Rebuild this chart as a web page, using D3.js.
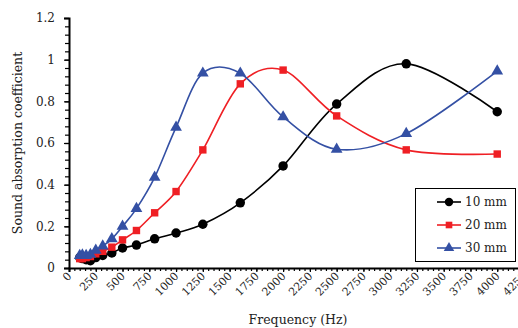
<!DOCTYPE html>
<html>
<head>
<meta charset="utf-8">
<script src="https://cdn.jsdelivr.net/npm/d3@7"></script>
<style>
  body { margin: 0; background: #fff; }
</style>
</head>
<body>
<div id="chart"></div>
<script>
const freqs = [100, 125, 160, 200, 250, 315, 400, 500, 630, 800, 1000, 1250, 1600, 2000, 2500, 3150, 4000];
const mm10 = [0.05, 0.045, 0.04, 0.035, 0.05, 0.06, 0.072, 0.096, 0.11, 0.14, 0.168, 0.21, 0.313, 0.49, 0.787, 0.98, 0.75];
const mm20 = [0.045, 0.045, 0.05, 0.055, 0.068, 0.08, 0.1, 0.135, 0.18, 0.265, 0.367, 0.567, 0.884, 0.95, 0.73, 0.567, 0.547];
const mm30 = [0.06, 0.062, 0.06, 0.065, 0.085, 0.105, 0.14, 0.2, 0.285, 0.435, 0.675, 0.935, 0.935, 0.725, 0.57, 0.645, 0.945];
const seriesNames = ["10 mm", "20 mm", "30 mm"];
const xTicks = d3.range(0, 4251, 250);
const yTicks = [0, 0.2, 0.4, 0.6, 0.8, 1, 1.2];

const FONT = "DejaVu Serif";
const width = 518, height = 328;
const svg = d3.select("#chart").append("svg")
  .attr("width", width)
  .attr("height", height);

const x = d3.scaleLinear().domain([0, 4250]).range([69, 524]);
const y = d3.scaleLinear().domain([0, 1.2]).range([268, 18]);

// minor ticks
svg.append("g")
  .attr("transform", "translate(0,268)")
  .call(d3.axisBottom(x).tickValues(d3.range(0, 4251, 50)).tickSize(3).tickFormat(""))
  .call(g => g.select(".domain").remove())
  .call(g => g.selectAll("line").attr("stroke", "#000").attr("stroke-width", 1.2));
svg.append("g")
  .attr("transform", "translate(69,0)")
  .call(d3.axisLeft(y).tickValues(d3.range(0, 1.2001, 0.04)).tickSize(4).tickFormat(""))
  .call(g => g.select(".domain").remove())
  .call(g => g.selectAll("line").attr("stroke", "#000").attr("stroke-width", 1.2));

// x axis
const xAxis = svg.append("g")
  .attr("transform", "translate(0,268)")
  .call(d3.axisBottom(x).tickValues(xTicks).tickSize(4).tickFormat(d3.format("d")));
xAxis.select(".domain").attr("stroke", "#000").attr("stroke-width", 2);
xAxis.selectAll("line").attr("stroke", "#000").attr("stroke-width", 1.2);
xAxis.selectAll("text")
  .attr("font-family", FONT)
  .attr("fill", "#222")
  .style("font-size", "11px")
  .attr("text-anchor", "end")
  .attr("transform", "translate(0,6) rotate(-45)")
  .attr("dy", "0.35em")
  .attr("y", 0)
  .attr("x", 0);

// y axis
const yAxis = svg.append("g")
  .attr("transform", "translate(69,0)")
  .call(d3.axisLeft(y).tickValues(yTicks).tickSize(5).tickFormat(d => d));
yAxis.select(".domain").attr("stroke", "#000").attr("stroke-width", 2);
yAxis.selectAll("line").attr("stroke", "#000").attr("stroke-width", 1.2);
yAxis.selectAll("text")
  .attr("font-family", FONT)
  .attr("fill", "#222")
  .attr("x", -14)
  .style("font-size", "12px");

// titles
svg.append("text")
  .attr("x", 298).attr("y", 324)
  .attr("text-anchor", "middle")
  .attr("font-family", FONT)
  .attr("fill", "#222")
  .style("font-size", "12.5px")
  .text("Frequency (Hz)");
svg.append("text")
  .attr("transform", "translate(22,143) rotate(-90)")
  .attr("text-anchor", "middle")
  .attr("font-family", FONT)
  .attr("fill", "#222")
  .style("font-size", "12.5px")
  .text("Sound absorption coefficient");

const series = [
  { name: seriesNames[0], values: mm10, color: "#000000", shape: d3.symbolCircle, size: 70 },
  { name: seriesNames[1], values: mm20, color: "#ef1f24", shape: d3.symbolSquare, size: 55 },
  { name: seriesNames[2], values: mm30, color: "#3450a4", shape: d3.symbolTriangle, size: 60 }
];

const line = d3.line()
  .x(d => x(d[0]))
  .y(d => y(d[1]))
  .curve(d3.curveCardinal);

series.forEach(s => {
  const pts = freqs.map((f, i) => [f, s.values[i]]);
  svg.append("path")
    .datum(pts)
    .attr("fill", "none")
    .attr("stroke", s.color)
    .attr("stroke-width", 1.6)
    .attr("d", line);
  svg.append("g").selectAll("path")
    .data(pts)
    .enter()
    .append("path")
    .attr("transform", d => `translate(${x(d[0])},${y(d[1])})`)
    .attr("d", d3.symbol().type(s.shape).size(s.size))
    .attr("fill", s.color);
});

// legend
const legend = svg.append("g");
legend.append("rect")
  .attr("x", 415.5).attr("y", 188.5)
  .attr("width", 100).attr("height", 73)
  .attr("fill", "#fff")
  .attr("stroke", "#000")
  .attr("stroke-width", 1);
series.forEach((s, i) => {
  const ly = 202 + i * 23;
  legend.append("line")
    .attr("x1", 437).attr("x2", 461)
    .attr("y1", ly).attr("y2", ly)
    .attr("stroke", s.color)
    .attr("stroke-width", 1.6);
  legend.append("path")
    .attr("transform", `translate(449,${ly})`)
    .attr("d", d3.symbol().type(s.shape).size(s.size * 0.8))
    .attr("fill", s.color);
  legend.append("text")
    .attr("x", 465).attr("y", ly)
    .attr("dy", "0.35em")
    .attr("font-family", FONT)
    .attr("fill", "#222")
    .style("font-size", "12px")
    .text(s.name);
});
</script>
</body>
</html>
